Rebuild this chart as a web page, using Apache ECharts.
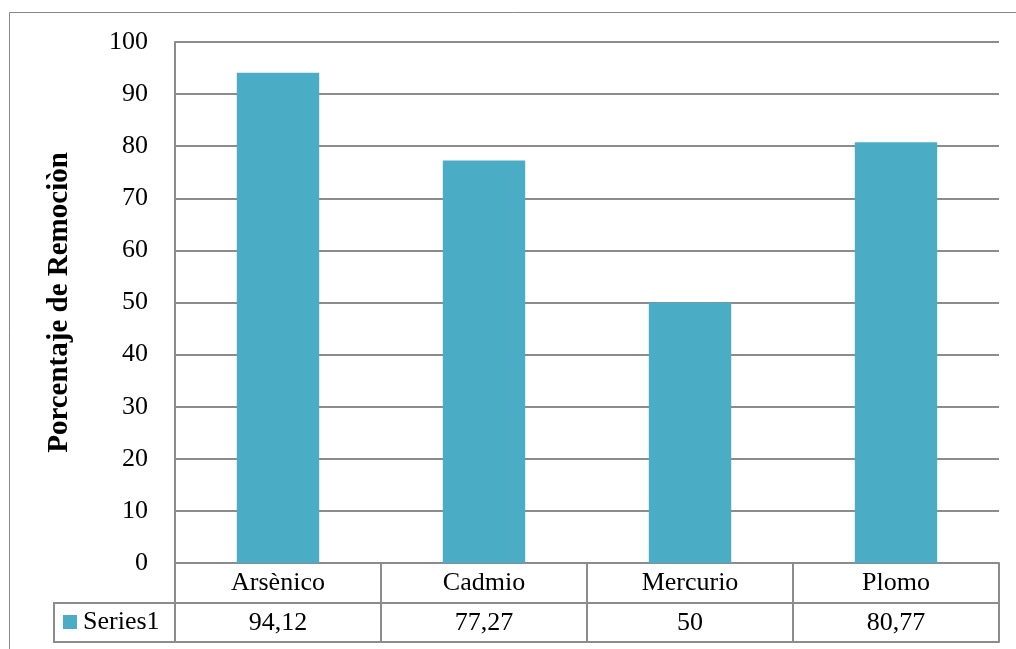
<!DOCTYPE html>
<html>
<head>
<meta charset="utf-8">
<script src="https://cdn.jsdelivr.net/npm/echarts@6/dist/echarts.min.js"></script>
<style>html,body{margin:0;padding:0;background:#fff}#c{width:1016px;height:649px}</style>
</head>
<body>
<div id="c"></div>
<script>
const categories = ['Arsènico', 'Cadmio', 'Mercurio', 'Plomo'];
const values = [94.12, 77.27, 50, 80.77];
const valueLabels = ['94,12', '77,27', '50', '80,77'];
const seriesName = 'Series1';
const yTitle = 'Porcentaje de Remociòn';

const FONT = '"Liberation Serif", "DejaVu Serif", serif';
const FS = 26;
const LINE = '#8c8c8c';
const chart = echarts.init(document.getElementById('c'), null, {renderer: 'canvas'});
chart.setOption({
  animation: false,
  textStyle: {fontFamily: FONT},
  grid: {left: 175, right: 17, top: 42, bottom: 86},
  legend: {
    data: [seriesName], left: 58, top: 604, icon: 'rect', itemWidth: 14, itemHeight: 14, itemGap: 5,
    textStyle: {fontFamily: FONT, fontSize: FS, color: '#000', padding: [0, 0, 0, 1]}
  },
  xAxis: [
    {
      type: 'category', data: categories, position: 'bottom',
      axisLine: {lineStyle: {color: LINE, width: 2}},
      axisTick: {show: true, length: 40, lineStyle: {color: LINE, width: 2}},
      axisLabel: {color: '#000', fontSize: FS, fontFamily: FONT, margin: 20, verticalAlign: 'middle'}
    },
    {
      type: 'category', data: categories, position: 'bottom', offset: 40,
      axisLine: {lineStyle: {color: LINE, width: 2}},
      axisTick: {show: true, length: 39, lineStyle: {color: LINE, width: 2}},
      axisLabel: {color: '#000', fontSize: FS, fontFamily: FONT, margin: 20, verticalAlign: 'middle',
        formatter: (v, i) => valueLabels[i]}
    },
    {
      type: 'category', data: categories, position: 'bottom', offset: 79,
      axisLine: {lineStyle: {color: LINE, width: 2}},
      axisTick: {show: false}, axisLabel: {show: false}
    }
  ],
  yAxis: {
    type: 'value', min: 0, max: 100, interval: 10,
    name: yTitle, nameLocation: 'middle', nameGap: 101, nameRotate: 90,
    nameTextStyle: {fontFamily: FONT, fontSize: 29, fontWeight: 'bold', color: '#000'},
    axisLine: {show: true, lineStyle: {color: LINE, width: 2}},
    axisTick: {show: false},
    axisLabel: {color: '#000', fontSize: FS, fontFamily: FONT, margin: 27},
    splitLine: {lineStyle: {color: LINE, width: 2}}
  },
  series: [{
    name: seriesName, type: 'bar', data: values, barWidth: '40%', xAxisIndex: 0,
    itemStyle: {color: '#4BACC6'}
  }],
  graphic: [
    {type: 'rect', shape: {x: 9.5, y: 12.5, width: 1100, height: 700}, style: {fill: 'none', stroke: '#888', lineWidth: 1}, silent: true},
    {type: 'polyline', shape: {points: [[175, 603], [54, 603], [54, 642], [175, 642]]}, style: {fill: 'none', stroke: LINE, lineWidth: 2}, silent: true}
  ]
});
</script>
</body>
</html>
